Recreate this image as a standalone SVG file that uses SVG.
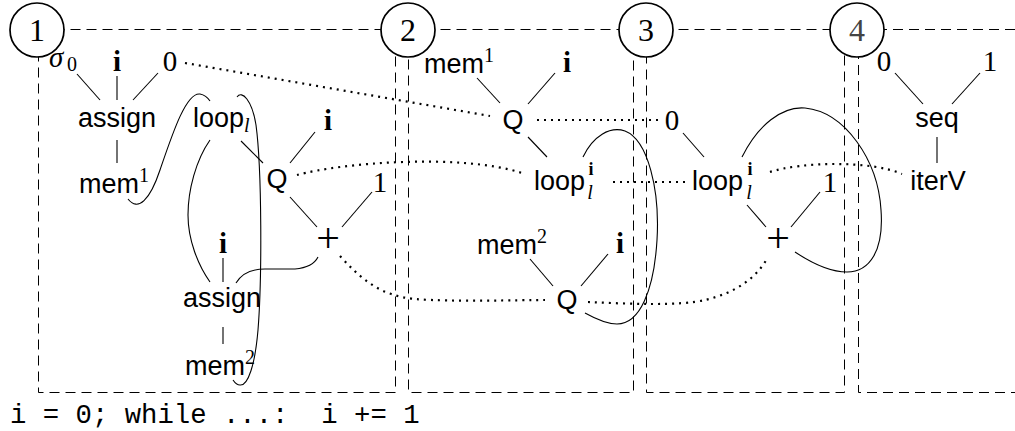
<svg xmlns="http://www.w3.org/2000/svg" width="1015" height="431" viewBox="0 0 1015 431">
<style>
.sans{font-family:"Liberation Sans",Arial,sans-serif;font-size:27px;fill:#000}
.serif{font-family:"Liberation Serif","Times New Roman",serif;font-size:29px;fill:#000}
.b{font-weight:bold}
.it{font-style:italic}
.sup{font-family:"Liberation Serif","Times New Roman",serif;font-size:20px}
.supi{font-family:"Liberation Serif","Times New Roman",serif;font-size:18px;font-weight:bold}
.subl{font-family:"Liberation Serif","Times New Roman",serif;font-size:20px;font-style:italic}
.plus{font-family:"Liberation Serif","Times New Roman",serif;font-size:42px}
.mono{font-family:"Liberation Mono","Courier New",monospace;font-size:27.3px;fill:#000}
.edge{stroke:#000;stroke-width:1.1;fill:none}
.dot{stroke:#000;stroke-width:2.2;stroke-dasharray:2 5;fill:none}
.frame{stroke:#000;stroke-width:1;stroke-dasharray:10 6;fill:none}
.circ{fill:#fff;stroke:#000;stroke-width:1.7}
.num{font-family:"Liberation Serif","Times New Roman",serif;font-size:32px;fill:#000}
</style>
<rect width="1015" height="431" fill="#fff"/>
<g id="frames">
<path class="frame" d="M38.5,29.5 H395.5 V392.5 H38.5 Z"/>
<path class="frame" d="M408.5,29.5 H633.5 V392.5 H408.5 Z"/>
<path class="frame" d="M646.5,29.5 H844.5 V392.5 H646.5 Z"/>
<path class="frame" d="M1015,29.5 H858.5 V392.5 H1015"/>
</g>
<g id="connectors">
<line class="edge" x1="77" y1="74" x2="100" y2="100"/>
<line class="edge" x1="117" y1="76" x2="117" y2="100"/>
<line class="edge" x1="158" y1="73" x2="133" y2="100"/>
<line class="edge" x1="117" y1="140" x2="117" y2="163"/>
<line class="edge" x1="241" y1="141" x2="263" y2="163"/>
<line class="edge" x1="315" y1="132" x2="290" y2="163"/>
<line class="edge" x1="290" y1="197" x2="317" y2="227"/>
<line class="edge" x1="372" y1="192" x2="342" y2="227"/>
<line class="edge" x1="223" y1="258" x2="223" y2="282"/>
<line class="edge" x1="223" y1="327" x2="223" y2="344"/>
<line class="edge" x1="477" y1="78" x2="500" y2="103"/>
<line class="edge" x1="555" y1="73" x2="528" y2="104"/>
<line class="edge" x1="528" y1="137" x2="547" y2="157"/>
<line class="edge" x1="530" y1="259" x2="553" y2="286"/>
<line class="edge" x1="608" y1="254" x2="581" y2="286"/>
<line class="edge" x1="683" y1="133" x2="704" y2="157"/>
<line class="edge" x1="747" y1="205" x2="766" y2="227"/>
<line class="edge" x1="820" y1="192" x2="791" y2="227"/>
<line class="edge" x1="895" y1="73" x2="923" y2="104"/>
<line class="edge" x1="980" y1="73" x2="952" y2="104"/>
<line class="edge" x1="937" y1="137" x2="937" y2="163"/>
<path class="edge" d="M128,199 C138,212 150,200 160,170 C172,135 186,92 200,94 C205,95 208,98 210,101"/>
<path class="edge" d="M210,140 C196,160 188,190 188,215 C188,240 198,265 210,282"/>
<path class="edge" d="M237,97 C242,90 252,100 256,125 C262,170 262,280 258,330 C255,365 248,386 240,385 C237,385 235,383 233,380"/>
<path class="edge" d="M318,257 C314,265 306,268 295,269 L265,269 C252,269 242,273 236,283"/>
<path class="edge" d="M583,157 C593,136 610,126 625,131 C648,140 660,190 657,240 C654,290 640,324 617,324 C606,324 594,318 585,313"/>
<path class="edge" d="M742,157 C758,125 782,106 805,108 C845,112 878,160 881,210 C884,250 870,272 847,272 C830,272 810,262 795,252"/>
<path class="dot" d="M185,63 L490,116"/>
<path class="dot" d="M297,175 C340,163 460,153 522,173"/>
<path class="dot" d="M340,256 C360,278 380,296 415,299 C450,302 520,300 545,300"/>
<path class="dot" d="M537,120 L661,120"/>
<path class="dot" d="M613,182 L686,182"/>
<path class="dot" d="M588,302 C630,304 680,306 705,300 C735,293 757,278 768,257"/>
<path class="dot" d="M770,172 C800,162 870,160 902,174"/>
</g>
<g id="p1-sigma0"><text class="serif it" x="49" y="67">σ</text><text class="serif" x="67" y="71" style="font-size:20px">0</text></g>
<g id="p1-i"><text class="serif b" x="117" y="71" text-anchor="middle">i</text></g>
<g id="p1-zero"><text class="serif" x="170" y="71" text-anchor="middle">0</text></g>
<g id="p1-assign"><text class="sans" x="117" y="127" text-anchor="middle">assign</text></g>
<g id="p1-mem1"><text class="sans" x="79" y="193">mem<tspan class="sup" dy="-11">1</tspan></text></g>
<g id="p1-loop"><text class="sans" x="193" y="127">loop<tspan class="subl" dy="5">l</tspan></text></g>
<g id="p1-Q"><text class="sans" x="277" y="188" text-anchor="middle">Q</text></g>
<g id="p1-i2"><text class="serif b" x="328" y="130" text-anchor="middle">i</text></g>
<g id="p1-one"><text class="serif" x="380" y="192" text-anchor="middle">1</text></g>
<g id="p1-plus"><text class="plus" x="328" y="252" text-anchor="middle">+</text></g>
<g id="p1-i3"><text class="serif b" x="223" y="253" text-anchor="middle">i</text></g>
<g id="p1-assign2"><text class="sans" x="222" y="307" text-anchor="middle">assign</text></g>
<g id="p1-mem2"><text class="sans" x="185" y="375">mem<tspan class="sup" dy="-11">2</tspan></text></g>
<g id="p2-mem1"><text class="sans" x="424" y="73">mem<tspan class="sup" dy="-11">1</tspan></text></g>
<g id="p2-i"><text class="serif b" x="567" y="72" text-anchor="middle">i</text></g>
<g id="p2-Q"><text class="sans" x="513" y="129" text-anchor="middle">Q</text></g>
<g id="p2-loop"><text class="sans" x="534" y="190">loop</text><text class="supi" x="591" y="175" text-anchor="middle">i</text><text class="subl" x="590" y="199" text-anchor="middle">l</text></g>
<g id="p2-mem2"><text class="sans" x="477" y="254">mem<tspan class="sup" dy="-11">2</tspan></text></g>
<g id="p2-i2"><text class="serif b" x="620" y="253" text-anchor="middle">i</text></g>
<g id="p2-Q2"><text class="sans" x="567" y="309" text-anchor="middle">Q</text></g>
<g id="p3-zero"><text class="serif" x="672" y="130" text-anchor="middle">0</text></g>
<g id="p3-loop"><text class="sans" x="692" y="190">loop</text><text class="supi" x="750" y="175" text-anchor="middle">i</text><text class="subl" x="749" y="199" text-anchor="middle">l</text></g>
<g id="p3-one"><text class="serif" x="830" y="192" text-anchor="middle">1</text></g>
<g id="p3-plus"><text class="plus" x="778" y="252" text-anchor="middle">+</text></g>
<g id="p4-zero"><text class="serif" x="884" y="71" text-anchor="middle">0</text></g>
<g id="p4-one"><text class="serif" x="990" y="71" text-anchor="middle">1</text></g>
<g id="p4-seq"><text class="sans" x="937" y="127" text-anchor="middle">seq</text></g>
<g id="p4-iterV"><text class="sans" x="938" y="190" text-anchor="middle">iterV</text></g>
<g id="step1"><circle class="circ" cx="37" cy="30" r="27"/><text class="num" x="37" y="41" text-anchor="middle">1</text></g>
<g id="step2"><circle class="circ" cx="408" cy="30" r="27"/><text class="num" x="408" y="41" text-anchor="middle">2</text></g>
<g id="step3"><circle class="circ" cx="646" cy="30" r="27"/><text class="num" x="646" y="41" text-anchor="middle">3</text></g>
<g id="step4"><circle class="circ" cx="857" cy="30" r="27"/><text class="num" x="857" y="41" text-anchor="middle" style="fill:#444">4</text></g>
<g id="caption"><text class="mono" x="10" y="423" xml:space="preserve">i = 0; while ...:  i += 1</text></g>
</svg>
